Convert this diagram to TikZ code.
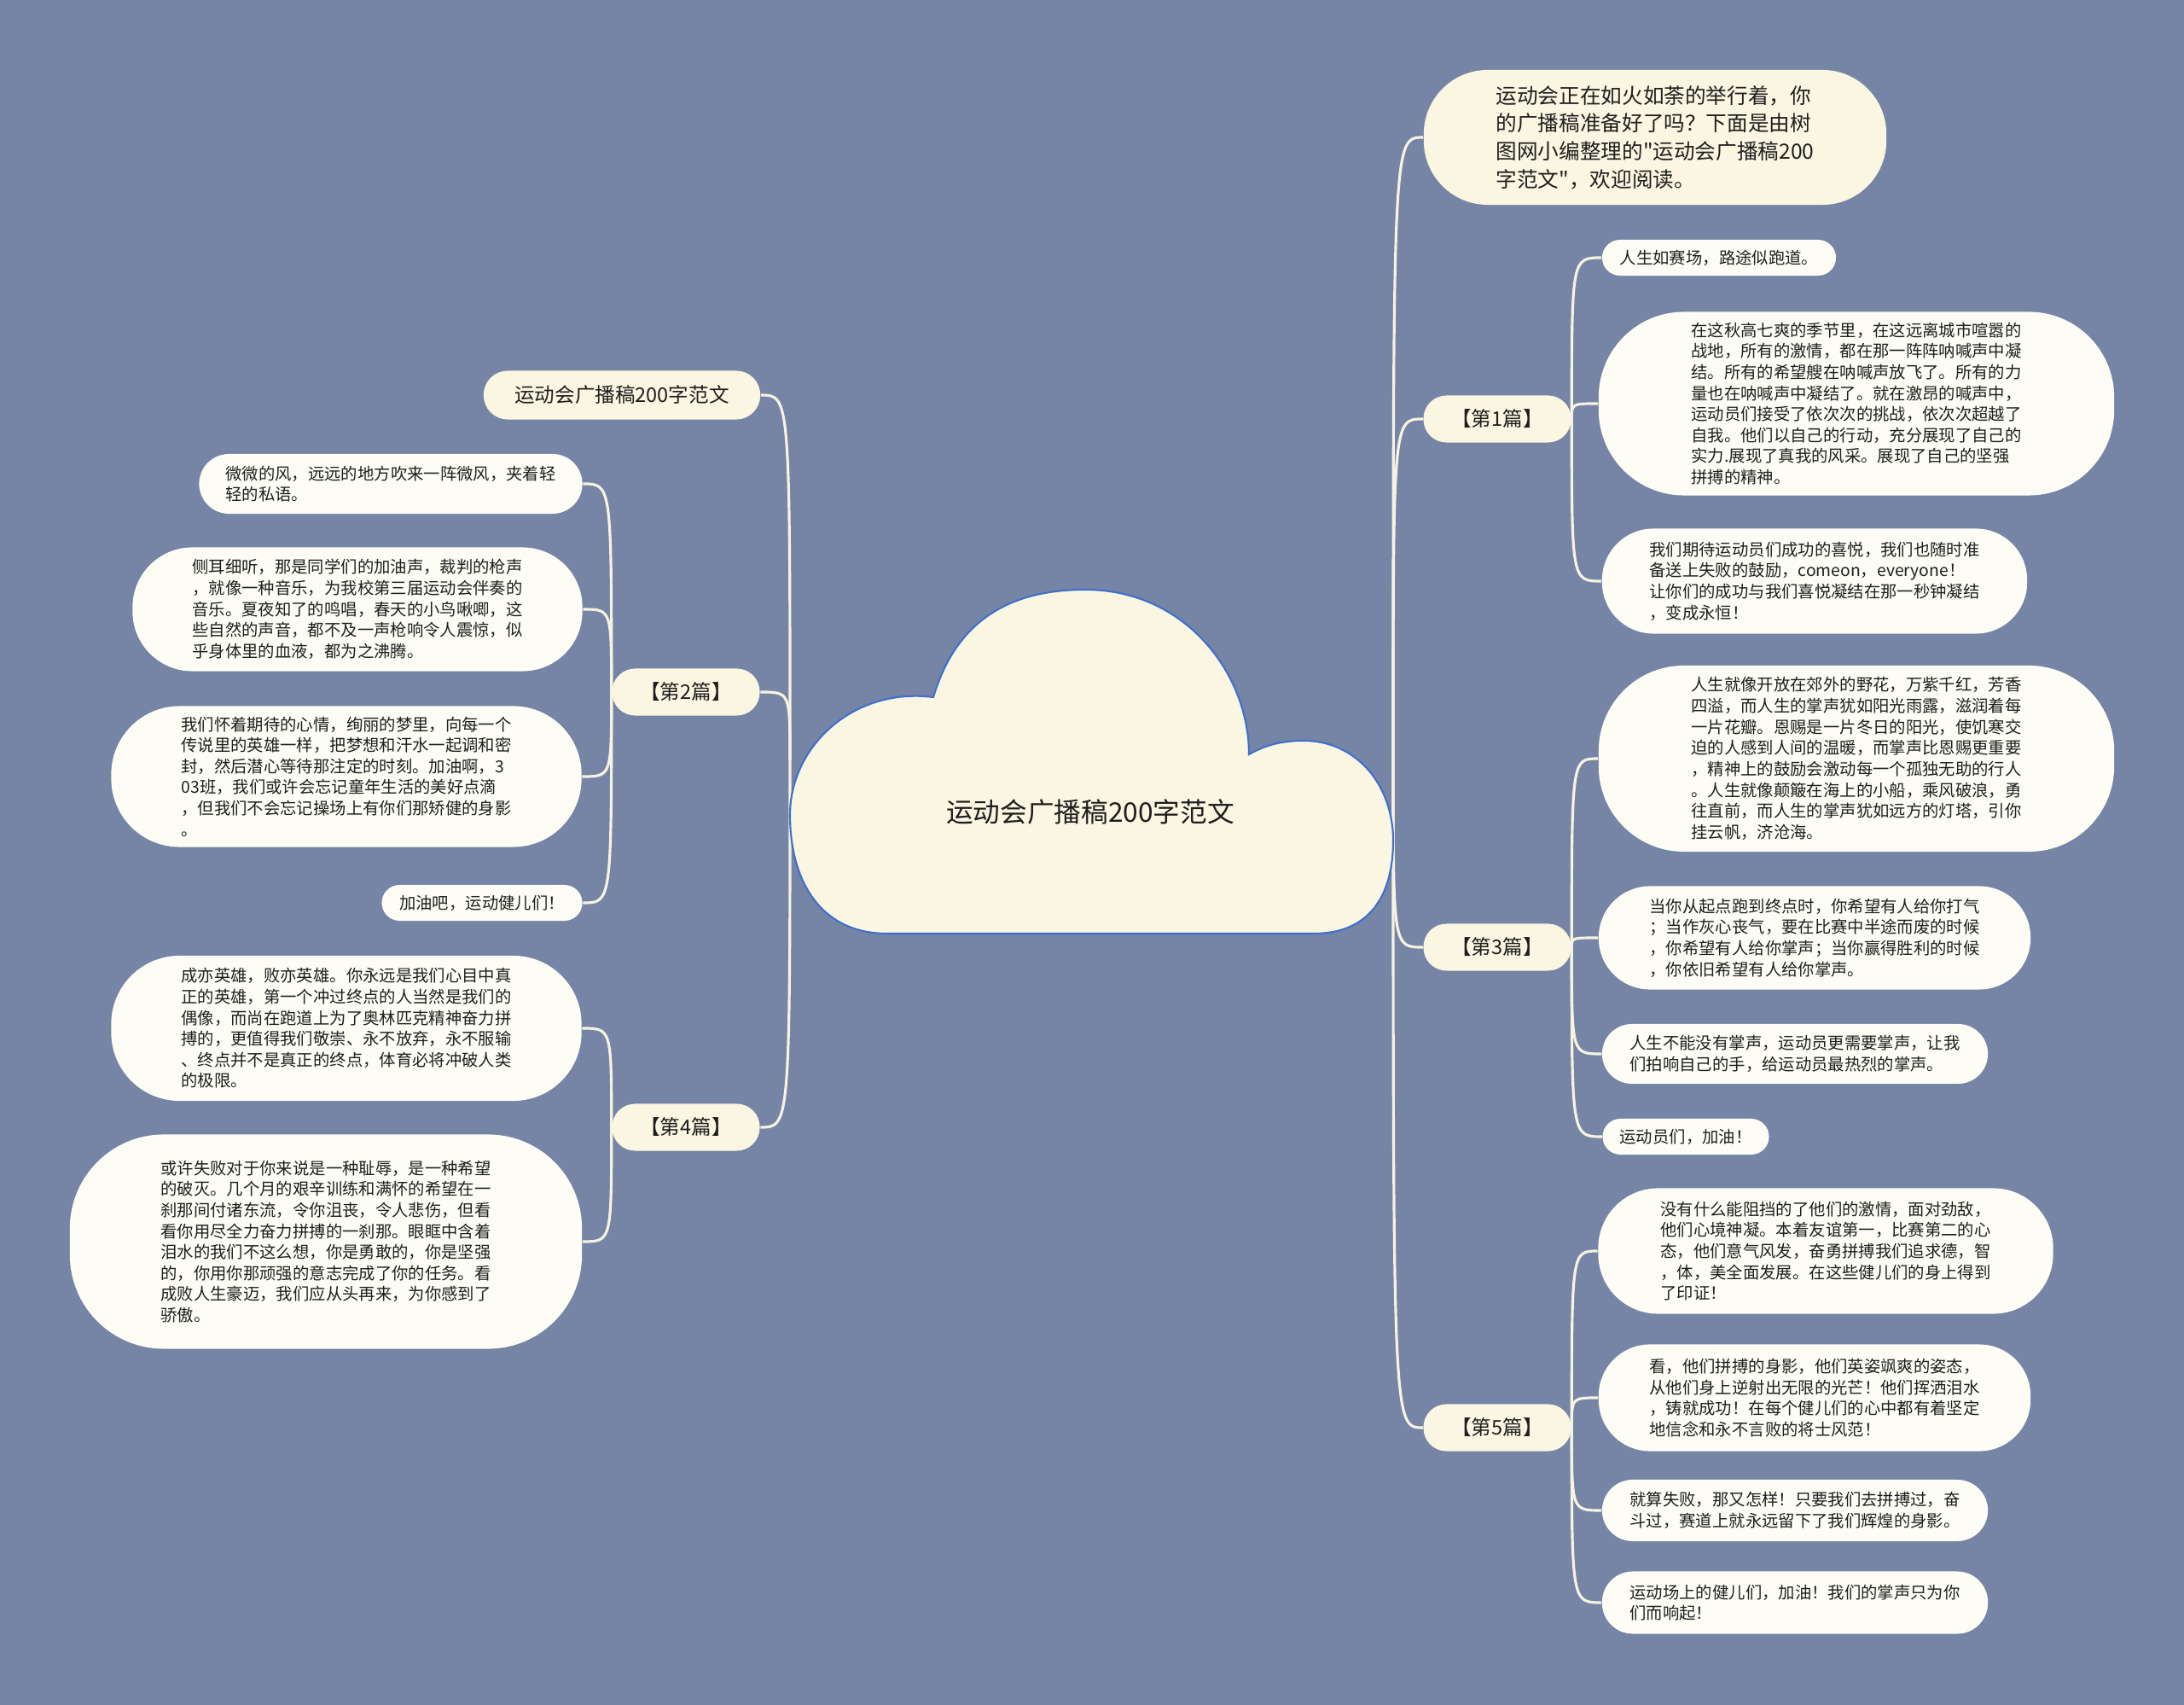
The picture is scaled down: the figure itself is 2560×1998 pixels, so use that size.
\documentclass[tikz,border=0pt]{standalone}
\usepackage{fontspec}
\newfontfamily\cjk{Noto Sans CJK SC}
\usepackage{tikz}
\usetikzlibrary{backgrounds}
\definecolor{bgblue}{RGB}{118,132,166}
\definecolor{cream}{RGB}{250,246,225}
\definecolor{paper}{RGB}{253,253,246}
\definecolor{wire}{RGB}{246,243,224}
\definecolor{ink}{RGB}{30,30,30}
\definecolor{rim}{RGB}{64,112,204}

\begin{document}
\begin{tikzpicture}[
      x=0.01cm, y=0.01cm, font=\cjk, text=ink,
      link/.style={draw=wire, line width=0.9pt},
      branch/.style={to path={.. controls (\tikztostart |- \tikztotarget) .. (\tikztotarget)}},
      topic/.style={fill=cream, rounded corners=2.7mm, minimum width=17.3mm,
                    minimum height=5.5mm, inner sep=0pt,
                    font=\cjk\fontsize{6.7}{8}\selectfont},
      intro/.style={fill=cream, rounded corners=7.5mm, align=left, inner sep=0pt,
                    font=\cjk\fontsize{7}{9.3}\selectfont},
      leaf/.style={fill=paper, rounded corners=#1, align=left, inner sep=0pt,
                   font=\cjk\fontsize{5.5}{7}\selectfont},
      leaf/.default=2.1mm,
    ]
    \useasboundingbox (0,0) rectangle (2560,-1998);

    % central cloud
    \draw[rim, line width=0.6pt, fill=cream]
      (926,-955) .. controls (926,-875) and (1000,-805) .. (1094,-817)
      .. controls (1120,-730) and (1180,-691) .. (1272,-691)
      .. controls (1390,-691) and (1464,-790) .. (1464,-884)
      .. controls (1485,-872) and (1505,-868) .. (1528,-868)
      .. controls (1590,-868) and (1633,-920) .. (1633,-985)
      .. controls (1633,-1050) and (1605,-1094) .. (1540,-1094)
      -- (1040,-1094)
      .. controls (960,-1094) and (926,-1030) .. (926,-955) -- cycle;
    \node[font=\cjk\fontsize{9}{10}\selectfont] (root) at (1278,-952) {运动会广播稿200字范文};
    \coordinate (hubL) at (926,-890);
    \coordinate (hubR) at (1633,-890);

    % right branch
    \node[intro, minimum width=54.2mm, minimum height=15.8mm] (intro) at (1940,-161)
      {运动会正在如火如荼的举行着，你\\的广播稿准备好了吗？下面是由树\\图网小编整理的"运动会广播稿200\\字范文"，欢迎阅读。};

    \node[topic] (p1) at (1755,-491) {【第1篇】};
    \node[leaf, minimum width=27.4mm, minimum height=4.2mm] (p1a) at (2015,-302)
      {人生如赛场，路途似跑道。};
    \node[leaf=10mm, minimum width=60.4mm, minimum height=21.5mm] (p1b) at (2176,-473)
      {在这秋高七爽的季节里，在这远离城市喧嚣的\\战地，所有的激情，都在那一阵阵呐喊声中凝\\结。所有的希望艘在呐喊声放飞了。所有的力\\量也在呐喊声中凝结了。就在激昂的喊声中，\\运动员们接受了依次次的挑战，依次次超越了\\自我。他们以自己的行动，充分展现了自己的\\实力.展现了真我的风采。展现了自己的坚强\\拼搏的精神。};
    \node[leaf=6mm, minimum width=49.8mm, minimum height=12.3mm] (p1c) at (2127,-681)
      {我们期待运动员们成功的喜悦，我们也随时准\\备送上失败的鼓励，comeon，everyone！\\让你们的成功与我们喜悦凝结在那一秒钟凝结\\，变成永恒！};

    \node[topic] (p3) at (1755,-1110) {【第3篇】};
    \node[leaf=10mm, minimum width=60.4mm, minimum height=21.8mm] (p3a) at (2176,-889)
      {人生就像开放在郊外的野花，万紫千红，芳香\\四溢，而人生的掌声犹如阳光雨露，滋润着每\\一片花瓣。恩赐是一片冬日的阳光，使饥寒交\\迫的人感到人间的温暖，而掌声比恩赐更重要\\，精神上的鼓励会激动每一个孤独无助的行人\\。人生就像颠簸在海上的小船，乘风破浪，勇\\往直前，而人生的掌声犹如远方的灯塔，引你\\挂云帆，济沧海。};
    \node[leaf=6mm, minimum width=50.6mm, minimum height=12.1mm] (p3b) at (2127,-1099)
      {当你从起点跑到终点时，你希望有人给你打气\\；当作灰心丧气，要在比赛中半途而废的时候\\，你希望有人给你掌声；当你赢得胜利的时候\\，你依旧希望有人给你掌声。};
    \node[leaf=3.5mm, minimum width=45.2mm, minimum height=7mm] (p3c) at (2104,-1235)
      {人生不能没有掌声，运动员更需要掌声，让我\\们拍响自己的手，给运动员最热烈的掌声。};
    \node[leaf, minimum width=19.5mm, minimum height=4.2mm] (p3d) at (1976,-1332)
      {运动员们，加油！};

    \node[topic] (p5) at (1755,-1673) {【第5篇】};
    \node[leaf=7mm, minimum width=53.3mm, minimum height=14.7mm] (p5a) at (2140,-1466)
      {没有什么能阻挡的了他们的激情，面对劲敌，\\他们心境神凝。本着友谊第一，比赛第二的心\\态，他们意气风发，奋勇拼搏我们追求德，智\\，体，美全面发展。在这些健儿们的身上得到\\了印证！};
    \node[leaf=6mm, minimum width=50.6mm, minimum height=12.5mm] (p5b) at (2127,-1638)
      {看，他们拼搏的身影，他们英姿飒爽的姿态，\\从他们身上逆射出无限的光芒！他们挥洒泪水\\，铸就成功！在每个健儿们的心中都有着坚定\\地信念和永不言败的将士风范！};
    \node[leaf=3.6mm, minimum width=45.2mm, minimum height=7.2mm] (p5c) at (2104,-1770)
      {就算失败，那又怎样！只要我们去拼搏过，奋\\斗过，赛道上就永远留下了我们辉煌的身影。};
    \node[leaf=3.6mm, minimum width=45.2mm, minimum height=7.3mm] (p5d) at (2104,-1878)
      {运动场上的健儿们，加油！我们的掌声只为你\\们而响起！};

    % left branch
    \node[topic, rounded corners=2.8mm, minimum width=32.4mm, minimum height=5.7mm] (sub) at (729,-463)
      {运动会广播稿200字范文};

    \node[topic] (p2) at (804,-811) {【第2篇】};
    \node[leaf=3.5mm, minimum width=44.9mm, minimum height=7mm] (p2a) at (458,-567)
      {微微的风，远远的地方吹来一阵微风，夹着轻\\轻的私语。};
    \node[leaf=7mm, minimum width=52.7mm, minimum height=14.5mm] (p2b) at (419,-714)
      {侧耳细听，那是同学们的加油声，裁判的枪声\\，就像一种音乐，为我校第三届运动会伴奏的\\音乐。夏夜知了的鸣唱，春天的小鸟啾唧，这\\些自然的声音，都不及一声枪响令人震惊，似\\乎身体里的血液，都为之沸腾。};
    \node[leaf=8mm, minimum width=55.1mm, minimum height=16.5mm] (p2c) at (406,-910)
      {我们怀着期待的心情，绚丽的梦里，向每一个\\传说里的英雄一样，把梦想和汗水一起调和密\\封，然后潜心等待那注定的时刻。加油啊，3\\03班，我们或许会忘记童年生活的美好点滴\\，但我们不会忘记操场上有你们那矫健的身影\\。};
    \node[leaf, minimum width=23.5mm, minimum height=4.2mm] (p2d) at (565,-1058)
      {加油吧，运动健儿们！};

    \node[topic] (p4) at (804,-1321) {【第4篇】};
    \node[leaf=8mm, minimum width=55.1mm, minimum height=17mm] (p4a) at (406,-1205)
      {成亦英雄，败亦英雄。你永远是我们心目中真\\正的英雄，第一个冲过终点的人当然是我们的\\偶像，而尚在跑道上为了奥林匹克精神奋力拼\\搏的，更值得我们敬崇、永不放弃，永不服输\\、终点并不是真正的终点，体育必将冲破人类\\的极限。};
    \node[leaf=11mm, minimum width=60mm, minimum height=25.1mm] (p4b) at (382,-1455)
      {或许失败对于你来说是一种耻辱，是一种希望\\的破灭。几个月的艰辛训练和满怀的希望在一\\刹那间付诸东流，令你沮丧，令人悲伤，但看\\看你用尽全力奋力拼搏的一刹那。眼眶中含着\\泪水的我们不这么想，你是勇敢的，你是坚强\\的，你用你那顽强的意志完成了你的任务。看\\成败人生豪迈，我们应从头再来，为你感到了\\骄傲。};

    \begin{scope}[on background layer]
      \fill[bgblue] (0,0) rectangle (2560,-1998);
      % flows from the cloud
      \draw[link] (hubR) to[branch] (intro.west);
      \draw[link] (hubR) to[branch] (p1.west);
      \draw[link] (hubR) to[branch] (p3.west);
      \draw[link] (hubR) to[branch] (p5.west);
      \draw[link] (hubL) to[branch] (sub.east);
      \draw[link] (hubL) to[branch] (p2.east);
      \draw[link] (hubL) to[branch] (p4.east);
      % leaves
      \draw[link] (p1.east) to[branch] (p1a.west);
      \draw[link] (p1.east) to[branch] (p1b.west);
      \draw[link] (p1.east) to[branch] (p1c.west);
      \draw[link] (p3.east) to[branch] (p3a.west);
      \draw[link] (p3.east) to[branch] (p3b.west);
      \draw[link] (p3.east) to[branch] (p3c.west);
      \draw[link] (p3.east) to[branch] (p3d.west);
      \draw[link] (p5.east) to[branch] (p5a.west);
      \draw[link] (p5.east) to[branch] (p5b.west);
      \draw[link] (p5.east) to[branch] (p5c.west);
      \draw[link] (p5.east) to[branch] (p5d.west);
      \draw[link] (p2.west) to[branch] (p2a.east);
      \draw[link] (p2.west) to[branch] (p2b.east);
      \draw[link] (p2.west) to[branch] (p2c.east);
      \draw[link] (p2.west) to[branch] (p2d.east);
      \draw[link] (p4.west) to[branch] (p4a.east);
      \draw[link] (p4.west) to[branch] (p4b.east);
    \end{scope}
  \end{tikzpicture}
\end{document}
